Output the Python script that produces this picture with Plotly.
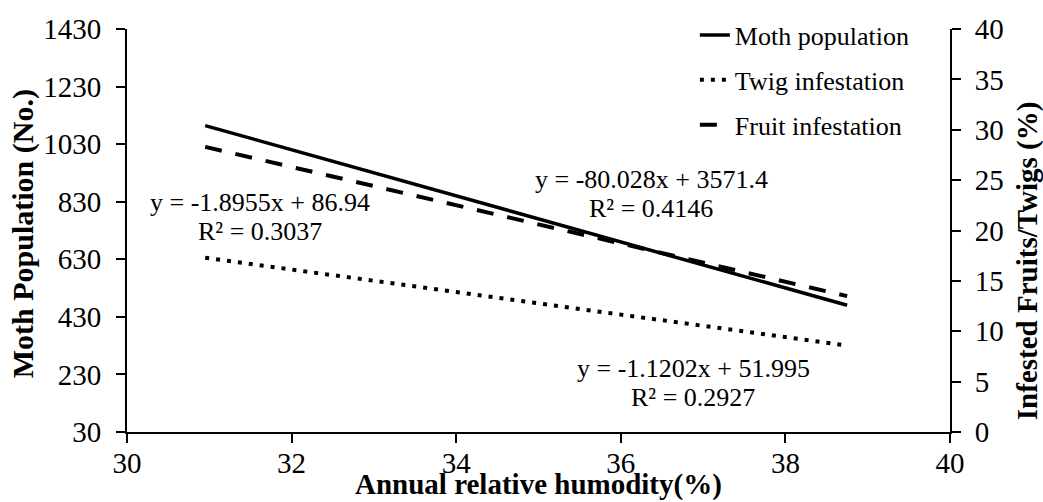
import plotly.graph_objects as go

# Trend line endpoints
x_vals = [30.95, 38.75]
moth_population = [1094.5, 470.3]   # left axis (No.)
twig_infestation = [17.3, 8.58]     # right axis (%)
fruit_infestation = [28.3, 13.49]   # right axis (%)

left_ticks = [30, 230, 430, 630, 830, 1030, 1230, 1430]
right_ticks = [0, 5, 10, 15, 20, 25, 30, 35, 40]
x_ticks = [30, 32, 34, 36, 38, 40]

# Trend-line equation labels
eq_lines = ["y = -80.028x + 3571.4", "y = -1.8955x + 86.94", "y = -1.1202x + 51.995"]
r2_lines = ["R² = 0.4146", "R² = 0.3037", "R² = 0.2927"]

FONT = "Liberation Serif, Times New Roman, serif"

fig = go.Figure()
fig.add_trace(go.Scatter(x=x_vals, y=moth_population, mode="lines", name="Moth population",
                         legendgroup="a", line=dict(color="black", width=3.5, dash="solid")))
fig.add_trace(go.Scatter(x=x_vals, y=twig_infestation, mode="lines", name="Twig infestation",
                         legendgroup="b", yaxis="y2", line=dict(color="black", width=4, dash="4px,7px")))
fig.add_trace(go.Scatter(x=x_vals, y=fruit_infestation, mode="lines", name="Fruit infestation",
                         legendgroup="c", yaxis="y2", line=dict(color="black", width=4, dash="17px,14px")))

axis_common = dict(showgrid=False, zeroline=False, showline=True, linecolor="black", linewidth=2,
                   ticks="outside", ticklen=9, tickwidth=2, tickcolor="black", automargin=False,
                   tickfont=dict(family=FONT, size=29, color="black"))

fig.update_layout(
    width=1043, height=502,
    margin=dict(l=127, r=93, t=26, b=70),
    paper_bgcolor="white", plot_bgcolor="white",
    font=dict(family=FONT, color="black"),
    xaxis=dict(range=[30, 40], tickvals=x_ticks, ticklabelstandoff=-5, **axis_common),
    yaxis=dict(range=[30, 1430], tickvals=left_ticks, ticklabelstandoff=9, **axis_common),
    yaxis2=dict(range=[0, 40], tickvals=right_ticks, overlaying="y", side="right",
                ticklabelstandoff=8, **axis_common),
    legend=dict(x=0.69, y=1.043, xanchor="left", yanchor="top", bgcolor="rgba(0,0,0,0)",
                font=dict(family=FONT, size=26, color="black"), tracegroupgap=8,
                traceorder="grouped"),
    showlegend=True,
)

fig.add_annotation(x=0.5006, y=-0.1305, xref="paper", yref="paper", xanchor="center", yanchor="middle",
                   text="<b>Annual relative humodity(%)</b>", showarrow=False,
                   font=dict(family=FONT, size=29, color="black"))
fig.add_annotation(x=-0.1264, y=0.493, xref="paper", yref="paper", xanchor="center", yanchor="middle",
                   textangle=-90, text="<b>Moth Population (No.)</b>", showarrow=False,
                   font=dict(family=FONT, size=30, color="black"))
fig.add_annotation(x=1.0936, y=0.424, xref="paper", yref="paper", xanchor="center", yanchor="middle",
                   textangle=-90, text="<b>Infested Fruits/Twigs (%)</b>", showarrow=False,
                   font=dict(family=FONT, size=29, color="black"))

ann_font = dict(family=FONT, size=26, color="black")
label_pos = [(36.37, 857, "y"), (31.62, 777, "y"), (36.88, 4.83, "y2")]
for (ax, ay, yr), eq, r2 in zip(label_pos, eq_lines, r2_lines):
    fig.add_annotation(x=ax, y=ay, xref="x", yref=yr, text=eq, showarrow=False, font=ann_font,
                       xanchor="center", yanchor="middle", yshift=14.5)
    fig.add_annotation(x=ax, y=ay, xref="x", yref=yr, text=r2, showarrow=False, font=ann_font,
                       xanchor="center", yanchor="middle", yshift=-14.5)

# remove the browser's default 8px body margin so the figure fills the window exactly
fig.write_html("out.html", config={"displayModeBar": False},
               post_script="document.body.style.margin='0px';")
